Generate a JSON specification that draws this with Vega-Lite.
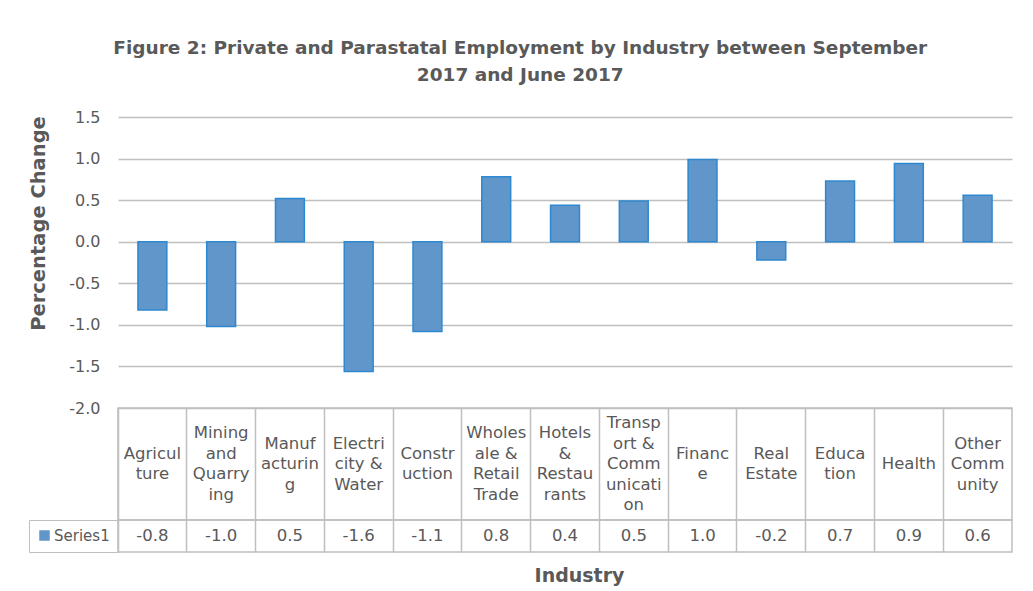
{
  "$schema": "https://vega.github.io/schema/vega-lite/v6.json",
  "background": "white",
  "padding": {"left": 27, "top": 38, "right": 18, "bottom": 6},
  "title": {
    "text": ["Figure 2: Private and Parastatal Employment by Industry between September", "2017 and June 2017"],
    "fontSize": 18.5,
    "fontWeight": "bold",
    "font": "DejaVu Sans",
    "color": "#595959",
    "lineHeight": 27,
    "offset": 25,
    "anchor": "middle"
  },
  "datasets": {
    "emp": [
      {"industry": "Agricul\nture", "change": -0.82},
      {"industry": "Mining\nand\nQuarry\ning", "change": -1.02},
      {"industry": "Manuf\nacturin\ng", "change": 0.52},
      {"industry": "Electri\ncity &\nWater", "change": -1.56},
      {"industry": "Constr\nuction", "change": -1.08},
      {"industry": "Wholes\nale &\nRetail\nTrade", "change": 0.78},
      {"industry": "Hotels\n&\nRestau\nrants", "change": 0.44},
      {"industry": "Transp\nort &\nComm\nunicati\non", "change": 0.49},
      {"industry": "Financ\ne", "change": 0.99},
      {"industry": "Real\nEstate", "change": -0.22},
      {"industry": "Educa\ntion", "change": 0.73},
      {"industry": "Health", "change": 0.94},
      {"industry": "Other\nComm\nunity", "change": 0.56}
    ]
  },
  "bounds": "flush",
  "spacing": 0,
  "resolve": {"legend": {"color": "independent"}, "scale": {"color": "independent"}},
  "vconcat": [
    {
      "width": 894,
      "height": 291,
      "data": {"name": "emp"},
      "view": {"stroke": null},
      "mark": {"type": "bar", "fill": "#6096CA", "stroke": "#2E88CF", "strokeWidth": 1.5, "width": {"band": 0.42}},
      "encoding": {
        "x": {"field": "industry", "type": "nominal", "sort": null, "scale": {"paddingInner": 0, "paddingOuter": 0}, "axis": null},
        "y": {
          "field": "change",
          "type": "quantitative",
          "scale": {"domain": [-2, 1.5], "nice": false, "zero": true},
          "axis": {
            "values": [-2, -1.5, -1, -0.5, 0, 0.5, 1, 1.5],
            "format": ".1f",
            "title": "Percentage Change",
            "grid": true,
            "gridColor": "#BFBFBF",
            "gridWidth": 1.5,
            "domain": false,
            "ticks": false,
            "labelPadding": 18,
            "labelFontSize": 16,
            "labelColor": "#595959",
            "titleFontSize": 19.5,
            "titleFontWeight": "bold",
            "titleColor": "#595959",
            "titlePadding": 20,
            "titleY": 106
          }
        }
      }
    },
    {
      "width": 894,
      "height": 112,
      "data": {"name": "emp"},
      "view": {"stroke": "#BFBFBF", "strokeWidth": 1.5},
      "encoding": {
        "x": {
          "field": "industry", "type": "nominal", "sort": null,
          "scale": {"type": "band", "paddingInner": 0, "paddingOuter": 0},
          "axis": {"grid": true, "bandPosition": 0, "gridColor": "#BFBFBF", "gridWidth": 1.5, "labels": false, "ticks": false, "domain": false, "title": null}
        }
      },
      "layer": [
        {"mark": {"type": "rect", "fill": "white", "opacity": 0}},
        {
          "transform": [{"filter": "length(split(datum.industry, '\\n')) == 1"}],
          "mark": {"type": "text", "lineBreak": "\n", "fontSize": 16.5, "lineHeight": 20.5, "color": "#595959", "baseline": "middle", "align": "center", "dy": 0},
          "encoding": {"text": {"field": "industry", "type": "nominal"}}
        },
        {
          "transform": [{"filter": "length(split(datum.industry, '\\n')) == 2"}],
          "mark": {"type": "text", "lineBreak": "\n", "fontSize": 16.5, "lineHeight": 20.5, "color": "#595959", "baseline": "middle", "align": "center", "dy": -10.25},
          "encoding": {"text": {"field": "industry", "type": "nominal"}}
        },
        {
          "transform": [{"filter": "length(split(datum.industry, '\\n')) == 3"}],
          "mark": {"type": "text", "lineBreak": "\n", "fontSize": 16.5, "lineHeight": 20.5, "color": "#595959", "baseline": "middle", "align": "center", "dy": -20.5},
          "encoding": {"text": {"field": "industry", "type": "nominal"}}
        },
        {
          "transform": [{"filter": "length(split(datum.industry, '\\n')) == 4"}],
          "mark": {"type": "text", "lineBreak": "\n", "fontSize": 16.5, "lineHeight": 20.5, "color": "#595959", "baseline": "middle", "align": "center", "dy": -30.75},
          "encoding": {"text": {"field": "industry", "type": "nominal"}}
        },
        {
          "transform": [{"filter": "length(split(datum.industry, '\\n')) == 5"}],
          "mark": {"type": "text", "lineBreak": "\n", "fontSize": 16.5, "lineHeight": 20.5, "color": "#595959", "baseline": "middle", "align": "center", "dy": -41},
          "encoding": {"text": {"field": "industry", "type": "nominal"}}
        }
      ]
    },
    {
      "width": 894,
      "height": 32,
      "data": {"name": "emp"},
      "view": {"stroke": "#BFBFBF", "strokeWidth": 1.5},
      "encoding": {
        "x": {
          "field": "industry", "type": "nominal", "sort": null,
          "scale": {"type": "band", "paddingInner": 0, "paddingOuter": 0},
          "axis": {
            "grid": true, "bandPosition": 0, "gridColor": "#BFBFBF", "gridWidth": 1.5,
            "labels": false, "ticks": false, "domain": false,
            "title": "Industry", "titleFontSize": 19, "titleFontWeight": "bold", "titleColor": "#595959",
            "titlePadding": 14, "titleX": 461
          }
        }
      },
      "layer": [
        {
          "mark": {"type": "rect", "opacity": 0},
          "encoding": {
            "color": {
              "datum": "Series1",
              "type": "nominal",
              "scale": {"range": ["#6096CA"]},
              "legend": {
                "orient": "left",
                "title": null,
                "offset": 0,
                "padding": 8,
                "strokeColor": "#BFBFBF",
                "symbolType": "square",
                "symbolSize": 110,
                "symbolOpacity": 1,
                "symbolStrokeWidth": 0,
                "labelFontSize": 15,
                "labelColor": "#595959",
                "labelOffset": 2
              }
            }
          }
        },
        {
          "mark": {"type": "text", "fontSize": 16.5, "color": "#595959", "baseline": "middle", "align": "center"},
          "encoding": {
            "text": {"field": "change", "type": "quantitative", "format": ".1f"}
          }
        }
      ]
    }
  ],
  "config": {
    "font": "DejaVu Sans",
    "locale": {"number": {"decimal": ".", "thousands": ",", "grouping": [3], "currency": ["$", ""], "minus": "-"}},
    "axis": {"labelFont": "DejaVu Sans", "titleFont": "DejaVu Sans"},
    "legend": {"labelFont": "DejaVu Sans"},
    "text": {"font": "DejaVu Sans"}
  }
}
